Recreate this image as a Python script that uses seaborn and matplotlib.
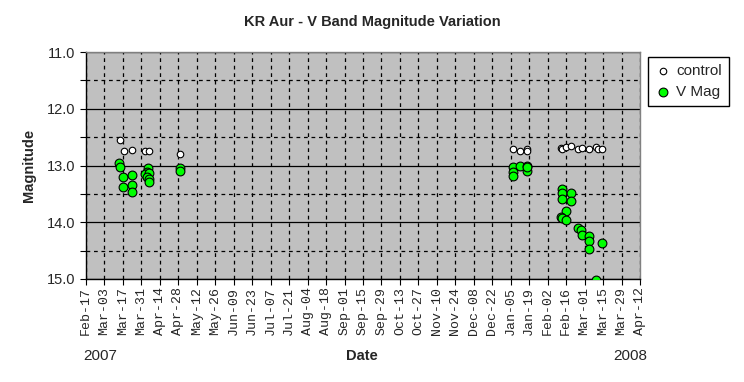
import pandas as pd
import matplotlib
matplotlib.use('Agg')
import matplotlib.pyplot as plt
import matplotlib.dates as mdates
from matplotlib.ticker import MultipleLocator
import seaborn as sns

# control star readings
control_dates = ['2007-03-15', '2007-03-18', '2007-03-24', '2007-04-03', '2007-04-06', '2007-04-29',
                 '2008-01-07', '2008-01-12', '2008-01-17', '2008-01-17', '2008-02-12', '2008-02-13',
                 '2008-02-16', '2008-02-20', '2008-02-25', '2008-02-28', '2008-03-04', '2008-03-10',
                 '2008-03-11', '2008-03-14']
control_mag = [12.55, 12.74, 12.73, 12.74, 12.74, 12.79,
               12.71, 12.75, 12.71, 12.75, 12.70, 12.71,
               12.68, 12.66, 12.71, 12.70, 12.71, 12.67,
               12.71, 12.71]

# KR Aur V magnitudes
vmag_dates = ['2007-03-14', '2007-03-15', '2007-03-17', '2007-03-24', '2007-03-17', '2007-03-24',
              '2007-03-24', '2007-04-05', '2007-04-04', '2007-04-03', '2007-04-06', '2007-04-04',
              '2007-04-06', '2007-04-06', '2007-04-29', '2007-04-29',
              '2008-01-07', '2008-01-07', '2008-01-07', '2008-01-12', '2008-01-17', '2008-01-17',
              '2008-01-17',
              '2008-02-13', '2008-02-13', '2008-02-20', '2008-02-13', '2008-02-20', '2008-02-16',
              '2008-02-12', '2008-02-13', '2008-02-16', '2008-02-25', '2008-02-27', '2008-02-28',
              '2008-03-04', '2008-03-04', '2008-03-14', '2008-03-04', '2008-03-10']
vmag = [12.95, 13.03, 13.20, 13.16, 13.38, 13.34,
        13.46, 13.05, 13.11, 13.15, 13.13, 13.20,
        13.23, 13.29, 13.05, 13.09,
        13.02, 13.12, 13.18, 13.00, 13.01, 13.10,
        13.03,
        13.41, 13.49, 13.49, 13.59, 13.63, 13.80,
        13.90, 13.93, 13.96, 14.11, 14.14, 14.22,
        14.25, 14.33, 14.36, 14.48, 15.01]

ctrl = pd.DataFrame({'Date': pd.to_datetime(control_dates), 'Mag': control_mag})
vm = pd.DataFrame({'Date': pd.to_datetime(vmag_dates), 'Mag': vmag})

sns.set_style('white')
plt.rcParams['font.family'] = ['Liberation Sans', 'DejaVu Sans']

fig = plt.figure(figsize=(7.44, 3.82), dpi=100)
ax = fig.add_axes([86/744, 1-279/382, (640-86)/744, (279-52)/382])
ax.set_facecolor('#c0c0c0')

sns.scatterplot(x='Date', y='Mag', data=ctrl, ax=ax, color='white', edgecolor='black',
                s=22, linewidth=0.8, label='control', zorder=3)
sns.scatterplot(x='Date', y='Mag', data=vm, ax=ax, color='#00ff00', edgecolor='black',
                s=40, linewidth=0.8, label='V Mag', zorder=4)

# axes limits and ticks
start, end = pd.Timestamp('2007-02-17'), pd.Timestamp('2008-04-12')
ax.set_xlim(start, end)
ax.set_ylim(15, 11)

xt = pd.date_range(start, end, freq='14D')
ax.set_xticks(xt)
ax.xaxis.set_major_formatter(mdates.DateFormatter('%b-%d'))
plt.setp(ax.get_xticklabels(), rotation=90, fontsize=9.5, family='Liberation Mono')

ax.yaxis.set_major_locator(MultipleLocator(1.0))
ax.yaxis.set_minor_locator(MultipleLocator(0.5))
ax.yaxis.set_major_formatter(matplotlib.ticker.FormatStrFormatter('%.1f'))
ax.tick_params(axis='y', which='both', direction='out', length=4, width=0.8, left=True, labelsize=10.5, color='black')
ax.tick_params(axis='x', which='major', direction='out', length=4, width=0.8, bottom=True, pad=2, color='black')

# gridlines like Excel
ax.grid(which='major', axis='y', color='black', lw=0.9, ls='-')
ax.grid(which='minor', axis='y', color='black', lw=0.9, ls=(0, (3, 3)))
ax.grid(which='major', axis='x', color='black', lw=0.9, ls=(0, (3, 3)))
ax.set_axisbelow(True)

for s in ['left', 'bottom']:
    ax.spines[s].set_color('black')
    ax.spines[s].set_linewidth(1)
for s in ['top', 'right']:
    ax.spines[s].set_color('#808080')
    ax.spines[s].set_linewidth(1)

ax.set_xlabel('')
ax.set_ylabel('Magnitude', fontsize=10.5, fontweight='bold', labelpad=8)

fig.text(372/744, 1-22/382, 'KR Aur - V Band Magnitude Variation', ha='center', va='center',
         fontsize=10.5, fontweight='bold')
fig.text(362/744, 1-356/382, 'Date', ha='center', va='center', fontsize=10.5, fontweight='bold')
fig.text(100/744, 1-356/382, '2007', ha='center', va='center', fontsize=11)
fig.text(630/744, 1-356/382, '2008', ha='center', va='center', fontsize=11)

leg = ax.legend(loc='upper left', bbox_to_anchor=(648/744, 1-57/382), bbox_transform=fig.transFigure,
                frameon=True, fancybox=False, edgecolor='black', framealpha=1, fontsize=11,
                handletextpad=0.4, borderpad=0.45, handlelength=1.0, borderaxespad=0,
                labelspacing=0.45)
leg.get_frame().set_linewidth(1)

fig.savefig('out.png', dpi=100, facecolor='white')
